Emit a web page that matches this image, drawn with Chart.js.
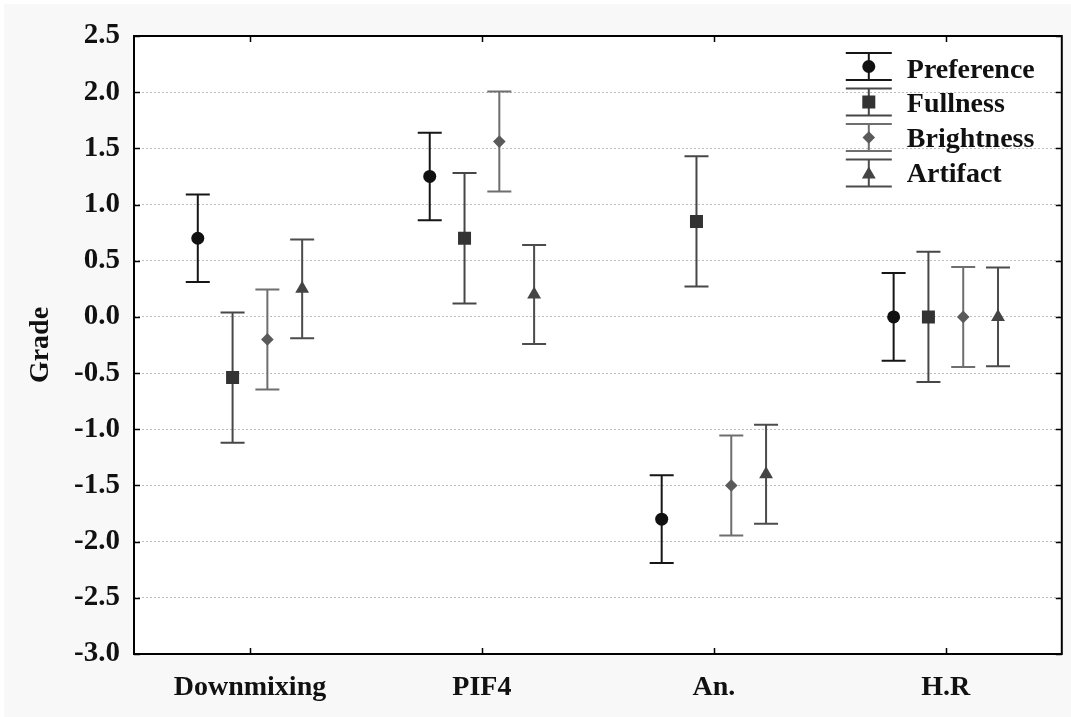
<!DOCTYPE html>
<html>
<head>
<meta charset="utf-8">
<script src="https://cdn.jsdelivr.net/npm/chart.js@4/dist/chart.umd.min.js"></script>
<style>
  html, body { margin: 0; padding: 0; background: #ffffff; }
  canvas { display: block; }
</style>
</head>
<body>
<canvas id="c" width="1071" height="717"></canvas>
<script>
// Mean grades and error half-widths per condition
const categories = ['Downmixing', 'PIF4', 'An.', 'H.R'];
const seriesNames = ['Preference', 'Fullness', 'Brightness', 'Artifact'];

const preference    = [0.70, 1.25, -1.80, 0.00];
const preferenceErr = [0.39, 0.39, 0.39, 0.39];
const fullness      = [-0.54, 0.70, 0.85, 0.00];
const fullnessErr   = [0.58, 0.58, 0.58, 0.58];
const brightness    = [-0.20, 1.56, -1.50, 0.00];
const brightnessErr = [0.445, 0.445, 0.445, 0.445];
const artifact      = [0.25, 0.20, -1.40, 0.00];
const artifactErr   = [0.44, 0.44, 0.44, 0.44];

const yMin = -3.0, yMax = 2.5, yStep = 0.5;

const seriesValues = [preference, fullness, brightness, artifact];
const seriesErrors = [preferenceErr, fullnessErr, brightnessErr, artifactErr];

// Marker look and horizontal offset of each series inside a category slot
const styles = [
  { offset: -0.225, shape: 'circle',   r: 6.5, fill: '#111111', bar: '#161616' },
  { offset: -0.075, shape: 'rect',     r: 9.2, fill: '#333333', bar: '#474747' },
  { offset:  0.075, shape: 'rectRot',  r: 6.3, fill: '#5a5a5a', bar: '#6e6e6e' },
  { offset:  0.225, shape: 'triangle', r: 8.0, fill: '#444444', bar: '#4c4c4c' }
];

const FONT = "'Liberation Serif', 'Times New Roman', Times, serif";

const datasets = seriesNames.map((name, s) => ({
  label: name,
  data: seriesValues[s].map((v, i) => ({ x: i + 1 + styles[s].offset, y: v })),
  errors: seriesErrors[s],
  barColor: styles[s].bar,
  pointStyle: styles[s].shape,
  pointRadius: styles[s].r,
  pointHoverRadius: styles[s].r,
  pointBackgroundColor: styles[s].fill,
  pointBorderColor: styles[s].fill,
  pointBorderWidth: 0,
  showLine: false
}));

// Own marker drawing for the legend symbols
function drawMarker(ctx, shape, r, x, y, color) {
  ctx.save();
  ctx.fillStyle = color;
  ctx.beginPath();
  if (shape === 'circle') {
    ctx.arc(x, y, r, 0, Math.PI * 2);
  } else if (shape === 'rect') {
    const h = r * Math.SQRT1_2;
    ctx.rect(x - h, y - h, 2 * h, 2 * h);
  } else if (shape === 'rectRot') {
    ctx.moveTo(x - r, y); ctx.lineTo(x, y + r); ctx.lineTo(x + r, y); ctx.lineTo(x, y - r);
    ctx.closePath();
  } else if (shape === 'triangle') {
    ctx.moveTo(x, y - r);
    ctx.lineTo(x + r * 0.866, y + r * 0.5);
    ctx.lineTo(x - r * 0.866, y + r * 0.5);
    ctx.closePath();
  }
  ctx.fill();
  ctx.restore();
}

function drawErrorBar(ctx, x, yTop, yBot, half, color) {
  ctx.save();
  ctx.strokeStyle = color;
  ctx.lineWidth = 2;
  ctx.beginPath();
  ctx.moveTo(x, yTop); ctx.lineTo(x, yBot);
  ctx.moveTo(x - half, yTop); ctx.lineTo(x + half, yTop);
  ctx.moveTo(x - half, yBot); ctx.lineTo(x + half, yBot);
  ctx.stroke();
  ctx.restore();
}

const panelPlugin = {
  id: 'panel',
  beforeDraw(chart) {
    const { ctx, chartArea: a } = chart;
    ctx.save();
    ctx.fillStyle = '#f8f8f8';
    ctx.fillRect(4, 4, chart.width - 4, chart.height - 4);
    ctx.fillStyle = '#ffffff';
    ctx.fillRect(a.left, a.top, a.right - a.left, a.bottom - a.top);
    ctx.restore();
  }
};

const errorBarPlugin = {
  id: 'errorBars',
  beforeDatasetsDraw(chart) {
    const { ctx } = chart;
    const yScale = chart.scales.y;
    chart.data.datasets.forEach((ds, s) => {
      const meta = chart.getDatasetMeta(s);
      meta.data.forEach((pt, i) => {
        const v = ds.data[i].y, e = ds.errors[i];
        drawErrorBar(ctx, pt.x, yScale.getPixelForValue(v + e), yScale.getPixelForValue(v - e), 12, ds.barColor);
      });
    });
  }
};

const framePlugin = {
  id: 'frame',
  afterDraw(chart) {
    const { ctx, chartArea: a } = chart;
    const xs = chart.scales.x, ys = chart.scales.y;
    ctx.save();
    ctx.strokeStyle = '#000000';
    ctx.lineWidth = 1.5;
    ctx.beginPath();
    ys.ticks.forEach(t => {
      const p = Math.round(ys.getPixelForValue(t.value)) + 0.5;
      ctx.moveTo(a.left, p); ctx.lineTo(a.left + 6, p);
      ctx.moveTo(a.right - 6, p); ctx.lineTo(a.right, p);
    });
    xs.ticks.forEach(t => {
      const p = Math.round(xs.getPixelForValue(t.value)) + 0.5;
      ctx.moveTo(p, a.top); ctx.lineTo(p, a.top + 6);
      ctx.moveTo(p, a.bottom - 6); ctx.lineTo(p, a.bottom);
    });
    ctx.stroke();
    ctx.lineWidth = 2;
    ctx.strokeRect(a.left, a.top, a.right - a.left, a.bottom - a.top);
    ctx.restore();

    // legend in the upper right corner of the plot
    const lx = a.right - 193, tx = a.right - 155;
    chart.data.datasets.forEach((ds, s) => {
      const cy = a.top + 30.5 + 35.5 * s;
      drawErrorBar(ctx, lx, cy - 13.5, cy + 13.5, 23, styles[s].bar);
      drawMarker(ctx, styles[s].shape, styles[s].r, lx, cy + (styles[s].shape === 'triangle' ? 1.5 : 0), styles[s].fill);
      ctx.save();
      ctx.fillStyle = '#111111';
      ctx.font = 'bold 28px ' + FONT;
      ctx.textBaseline = 'alphabetic';
      ctx.textAlign = 'left';
      ctx.fillText(ds.label, tx, a.top + 41.5 + 34.7 * s);
      ctx.restore();
    });
  }
};

new Chart(document.getElementById('c'), {
  type: 'scatter',
  data: { datasets },
  options: {
    responsive: false,
    devicePixelRatio: 1,
    animation: false,
    events: [],
    layout: { padding: { left: 0, top: 36, right: 9, bottom: 0 } },
    plugins: { legend: { display: false }, tooltip: { enabled: false } },
    scales: {
      x: {
        type: 'linear',
        min: 0.5,
        max: 4.5,
        afterBuildTicks(scale) {
          scale.ticks = categories.map((c, i) => ({ value: i + 1 }));
        },
        afterFit(scale) { scale.height = 63; },
        grid: { display: false, drawTicks: false },
        border: { display: false },
        ticks: {
          padding: 17,
          color: '#111111',
          font: { family: FONT, size: 28, weight: 'bold' },
          maxRotation: 0,
          autoSkip: false,
          callback: (v) => categories[Math.round(v) - 1] || ''
        }
      },
      y: {
        min: yMin,
        max: yMax,
        afterFit(scale) { scale.width = 134; },
        grid: { color: '#bdbdbd', lineWidth: 1, drawTicks: false },
        border: { display: false, dash: [2, 2] },
        ticks: {
          stepSize: yStep,
          padding: 14,
          color: '#111111',
          font: { family: FONT, size: 29, weight: 'bold' },
          callback: (v) => v.toFixed(1)
        },
        title: {
          display: true,
          text: 'Grade',
          color: '#111111',
          font: { family: FONT, size: 28, weight: 'bold' },
          padding: { top: 24, bottom: 0 }
        }
      }
    }
  },
  plugins: [panelPlugin, errorBarPlugin, framePlugin]
});
</script>
</body>
</html>
